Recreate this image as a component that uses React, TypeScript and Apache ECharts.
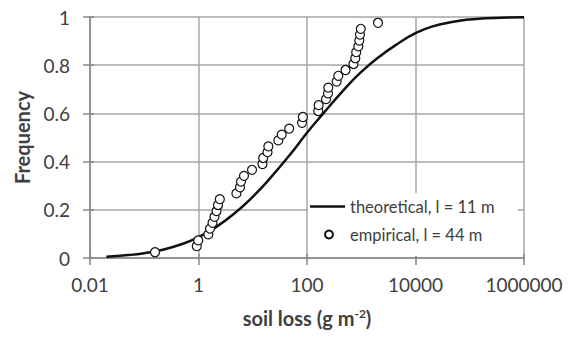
import React, { useEffect, useRef } from "react";
import * as echarts from "echarts";

const empiricalX = [0.158, 0.93, 0.99, 1.52, 1.63, 1.81, 1.97, 2.15, 2.29, 2.47, 5.0, 5.82, 6.07, 6.9, 9.7, 15.1, 15.6, 18.7, 19.4, 29.6, 34.2, 47, 81, 84, 161, 164, 224, 244, 247, 352, 378, 513, 719, 777, 807, 883, 920, 948, 981, 2037];
const empiricalF = [0.024, 0.049, 0.073, 0.098, 0.122, 0.146, 0.171, 0.195, 0.22, 0.244, 0.268, 0.293, 0.317, 0.341, 0.366, 0.39, 0.415, 0.439, 0.463, 0.488, 0.512, 0.537, 0.561, 0.585, 0.61, 0.634, 0.659, 0.683, 0.707, 0.732, 0.756, 0.78, 0.805, 0.829, 0.854, 0.878, 0.902, 0.927, 0.951, 0.976];

const theoreticalX = [0.02, 0.05, 0.1, 0.2, 0.5, 1, 2, 5, 10, 20, 50, 100, 200, 500, 1000, 2000, 5000, 10000, 20000, 50000, 100000, 200000, 500000, 1000000];
const theoreticalF = [0.005, 0.012, 0.02, 0.032, 0.058, 0.087, 0.125, 0.192, 0.254, 0.326, 0.432, 0.52, 0.6, 0.703, 0.772, 0.83, 0.893, 0.933, 0.96, 0.98, 0.99, 0.995, 0.998, 0.999];

const xTickLabels = ["0.01", "1", "100", "10000", "1000000"];
const seriesNames = ["theoretical, l = 11 m", "empirical, l = 44 m"];

const FONT = "Lato";
const TEXT = "#404040";

export default function App() {
  const ref = useRef<HTMLDivElement>(null);
  useEffect(() => {
    if (!ref.current) return;
    const chart = echarts.init(ref.current, null, { renderer: "svg" });
    const fmtX = (v: number) => {
      const s = String(Number(v.toPrecision(6)));
      return xTickLabels.includes(s) ? s : "";
    };
    const baseX = { type: "log", logBase: 10, min: 0.01, max: 1000000, interval: 2, gridIndex: 0 };
    const baseY = { type: "value", min: 0, max: 1, interval: 0.2, gridIndex: 0 };
    const legendText = { fontFamily: FONT, fontSize: 16.5, color: TEXT };
    chart.setOption({
      animation: false,
      backgroundColor: "#fff",
      textStyle: { fontFamily: FONT },
      grid: { left: 90, right: 44, top: 17, bottom: 79, containLabel: false },
      xAxis: [
        {
          ...baseX,
          position: "bottom",
          name: "{a|soil loss (g m}{s|-2}{a|)}",
          nameLocation: "middle",
          nameGap: 49,
          nameTextStyle: {
            rich: {
              a: { fontFamily: FONT, fontWeight: "bold", fontSize: 20, color: TEXT },
              s: { fontFamily: FONT, fontWeight: "bold", fontSize: 12, color: TEXT, verticalAlign: "top", padding: [0, 0, 9, 0] },
            },
          },
          axisLine: { show: true, lineStyle: { color: "#868686", width: 1.5 } },
          axisTick: { show: true, length: 7, lineStyle: { color: "#868686", width: 1.5 } },
          axisLabel: { fontFamily: FONT, fontSize: 19, color: TEXT, margin: 17, formatter: fmtX },
          splitLine: { show: true, lineStyle: { color: "#a6a6a6", width: 1.5 } },
          minorTick: { show: false },
        },
        {
          ...baseX,
          position: "bottom",
          axisLine: { show: false },
          axisTick: { show: true, inside: true, length: 4, lineStyle: { color: "#868686", width: 1.5 } },
          axisLabel: { show: false },
          splitLine: { show: false },
        },
      ],
      yAxis: [
        {
          ...baseY,
          position: "left",
          name: "Frequency",
          nameLocation: "middle",
          nameGap: 58,
          nameTextStyle: { fontFamily: FONT, fontWeight: "bold", fontSize: 20, color: TEXT },
          axisLine: { show: true, lineStyle: { color: "#868686", width: 1.5 } },
          axisTick: { show: true, length: 7, lineStyle: { color: "#868686", width: 1.5 } },
          axisLabel: { fontFamily: FONT, fontSize: 19, color: TEXT, margin: 20 },
          splitLine: { show: true, lineStyle: { color: "#a6a6a6", width: 1.5 } },
        },
        {
          ...baseY,
          position: "left",
          axisLine: { show: false },
          axisTick: { show: true, inside: true, length: 4, lineStyle: { color: "#868686", width: 1.5 } },
          axisLabel: { show: false },
          splitLine: { show: false },
        },
      ],
      graphic: [
        {
          type: "rect",
          z: 10,
          shape: { x: 308, y: 193, width: 210, height: 63 },
          style: { fill: "#fff" },
        },
      ],
      legend: [
        {
          z: 11,
          left: 305,
          top: 193,
          itemWidth: 35,
          itemHeight: 2.5,
          selectedMode: false,
          textStyle: legendText,
          data: [{ name: seriesNames[0], icon: "rect", itemStyle: { color: "#111" } }],
        },
        {
          z: 11,
          left: 319,
          top: 221,
          itemWidth: 8,
          itemHeight: 8,
          selectedMode: false,
          textStyle: { ...legendText, padding: [0, 0, 0, 12] },
          data: [{ name: seriesNames[1], icon: "circle" }],
        },
      ],
      series: [
        {
          name: seriesNames[0],
          type: "line",
          xAxisIndex: 0,
          yAxisIndex: 0,
          smooth: true,
          symbol: "none",
          lineStyle: { color: "#111", width: 2.5 },
          itemStyle: { color: "#111" },
          data: theoreticalX.map((x, i) => [x, theoreticalF[i]]),
          z: 3,
        },
        {
          name: seriesNames[1],
          type: "scatter",
          xAxisIndex: 0,
          yAxisIndex: 0,
          symbol: "circle",
          symbolSize: 9,
          itemStyle: { color: "#fff", borderColor: "#111", borderWidth: 1.2, opacity: 1 },
          data: empiricalX.map((x, i) => [x, empiricalF[i]]),
          z: 4,
        },
      ],
    });
    return () => chart.dispose();
  }, []);
  return <div ref={ref} style={{ width: 568, height: 337, position: "absolute", left: 0, top: 0 }} />;
}
